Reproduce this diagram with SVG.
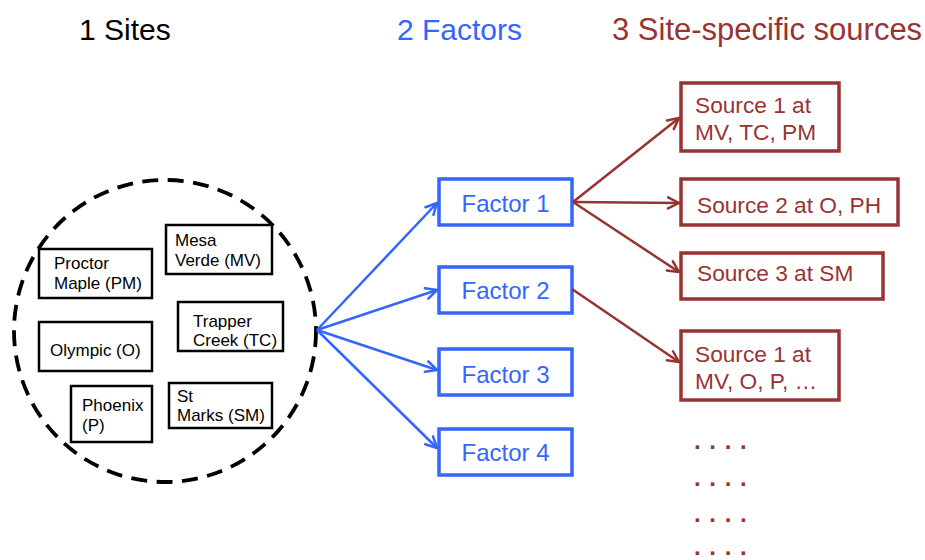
<svg xmlns="http://www.w3.org/2000/svg" width="925" height="560" viewBox="0 0 925 560">
  <style>
    text { font-family: "Liberation Sans", Arial, sans-serif; }
    .title { font-size: 30px; }
    .site rect { fill: #fff; stroke: #000; stroke-width: 2.5; }
    .site text { font-size: 17px; fill: #000; }
    .factor rect { fill: #fff; stroke: #3366ff; stroke-width: 3.5; }
    .factor text { font-size: 24px; fill: #3366ff; text-anchor: middle; }
    .source rect { fill: #fff; stroke: #993333; stroke-width: 3.5; }
    .source text { font-size: 22.7px; fill: #993333; }
    .blue { stroke: #3366ff; stroke-width: 2.5; fill: none; marker-end: url(#arrow-blue); }
    .red { stroke: #993333; stroke-width: 2.5; fill: none; marker-end: url(#arrow-red); }
    .dots { font-size: 24px; font-weight: bold; fill: #993333; letter-spacing: 8.7px; }
  </style>
  <defs>
    <marker id="arrow-blue" viewBox="0 0 14 14" refX="12.5" refY="7" markerWidth="14" markerHeight="14" markerUnits="userSpaceOnUse" orient="auto">
      <path d="M1.5,1.5 L12.5,7 L1.5,12.5" fill="none" stroke="#3366ff" stroke-width="2.5" stroke-linecap="round" stroke-linejoin="round"/>
    </marker>
    <marker id="arrow-red" viewBox="0 0 14 14" refX="12.5" refY="7" markerWidth="14" markerHeight="14" markerUnits="userSpaceOnUse" orient="auto">
      <path d="M1.5,1.5 L12.5,7 L1.5,12.5" fill="none" stroke="#993333" stroke-width="2.5" stroke-linecap="round" stroke-linejoin="round"/>
    </marker>
  </defs>

  <rect width="925" height="560" fill="#fff"/>

  <!-- column headings -->
  <text class="title" x="79" y="40" fill="#000">1 Sites</text>
  <text class="title" x="397" y="40" fill="#3366ff">2 Factors</text>
  <text class="title" x="612" y="40" fill="#993333" style="font-size:31px">3 Site-specific sources</text>

  <!-- dashed boundary around the sites -->
  <circle id="sites" cx="165" cy="331" r="151" fill="none" stroke="#000" stroke-width="3.8" stroke-dasharray="16 9.5"/>

  <g id="site-pm" class="site">
    <rect x="39" y="249" width="113" height="49"/>
    <text x="54" y="269">Proctor</text>
    <text x="54" y="289">Maple (PM)</text>
  </g>
  <g id="site-mv" class="site">
    <rect x="166" y="225" width="106" height="49"/>
    <text x="175" y="246">Mesa</text>
    <text x="175" y="266">Verde (MV)</text>
  </g>
  <g id="site-o" class="site">
    <rect x="39" y="322" width="113" height="49"/>
    <text x="50" y="356">Olympic (O)</text>
  </g>
  <g id="site-tc" class="site">
    <rect x="178" y="302" width="105" height="49"/>
    <text x="193" y="327">Trapper</text>
    <text x="193" y="346">Creek (TC)</text>
  </g>
  <g id="site-p" class="site">
    <rect x="71" y="386" width="81" height="56"/>
    <text x="82" y="411">Phoenix</text>
    <text x="82" y="431">(P)</text>
  </g>
  <g id="site-sm" class="site">
    <rect x="169" y="383" width="103" height="45"/>
    <text x="177" y="402">St</text>
    <text x="177" y="421">Marks (SM)</text>
  </g>

  <!-- factors -->
  <g id="factor-1" class="factor">
    <rect x="439" y="179" width="133" height="46"/>
    <text x="505.5" y="212">Factor 1</text>
  </g>
  <g id="factor-2" class="factor">
    <rect x="439" y="267" width="133" height="46"/>
    <text x="505.5" y="299">Factor 2</text>
  </g>
  <g id="factor-3" class="factor">
    <rect x="439" y="349" width="133" height="46"/>
    <text x="505.5" y="383">Factor 3</text>
  </g>
  <g id="factor-4" class="factor">
    <rect x="439" y="429" width="133" height="46"/>
    <text x="505.5" y="461">Factor 4</text>
  </g>

  <!-- site-specific sources -->
  <g id="source-1-f1" class="source">
    <rect x="681" y="83" width="158" height="68"/>
    <text x="695" y="113">Source 1 at</text>
    <text x="695" y="140">MV, TC, PM</text>
  </g>
  <g id="source-2-f1" class="source">
    <rect x="681" y="179" width="217" height="46"/>
    <text x="697" y="213">Source 2 at O, PH</text>
  </g>
  <g id="source-3-f1" class="source">
    <rect x="681" y="253" width="202" height="46"/>
    <text x="697" y="281">Source 3 at SM</text>
  </g>
  <g id="source-1-f2" class="source">
    <rect x="681" y="331" width="158" height="69"/>
    <text x="695" y="362">Source 1 at</text>
    <text x="695" y="389">MV, O, P, …</text>
  </g>

  <!-- continuation marks -->
  <g id="more-sources">
    <text class="dots" x="694" y="449">....</text>
    <text class="dots" x="694" y="486">....</text>
    <text class="dots" x="694" y="522">....</text>
    <text class="dots" x="694" y="555">....</text>
  </g>

  <!-- connectors -->
  <g id="connectors">
    <line class="blue" x1="317" y1="330" x2="437" y2="203"/>
    <line class="blue" x1="317" y1="330" x2="437" y2="290"/>
    <line class="blue" x1="317" y1="330" x2="437" y2="370"/>
    <line class="blue" x1="317" y1="330" x2="437" y2="448"/>
    <line class="red" x1="573" y1="202" x2="679" y2="118"/>
    <line class="red" x1="573" y1="202" x2="679" y2="203"/>
    <line class="red" x1="573" y1="202" x2="679" y2="272"/>
    <line class="red" x1="572" y1="289" x2="679" y2="362"/>
  </g>
</svg>
